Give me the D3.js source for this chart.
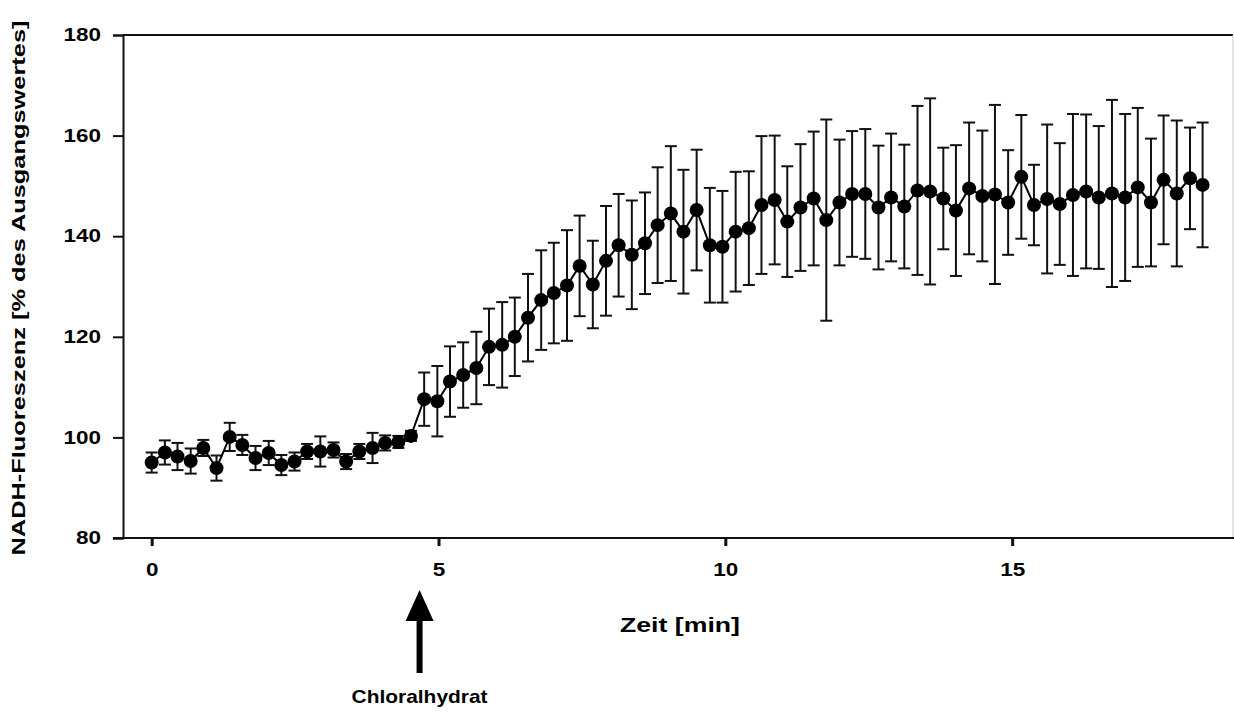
<!DOCTYPE html>
<html>
<head>
<meta charset="utf-8">
<script src="https://cdn.jsdelivr.net/npm/d3@7"></script>
<style>
  html, body { margin: 0; padding: 0; background: #fff; }
  svg { display: block; }
  text { font-family: "Liberation Sans", Arial, sans-serif; fill: #000; }
</style>
</head>
<body>
<svg id="chart" width="1234" height="713"></svg>
<script>
// Sampling times [min]
const times = [
  0.00, 0.23, 0.45, 0.68, 0.90, 1.13, 1.36, 1.58, 1.81, 2.04,
  2.26, 2.49, 2.71, 2.94, 3.17, 3.39, 3.62, 3.85, 4.07, 4.30,
  4.52, 4.75, 4.98, 5.20, 5.43, 5.66, 5.88, 6.11, 6.33, 6.56,
  6.79, 7.01, 7.24, 7.46, 7.69, 7.92, 8.14, 8.37, 8.60, 8.82,
  9.05, 9.27, 9.50, 9.73, 9.95, 10.18, 10.41, 10.63, 10.86, 11.08,
  11.31, 11.54, 11.76, 11.99, 12.21, 12.44, 12.67, 12.89, 13.12, 13.35,
  13.57, 13.80, 14.02, 14.25, 14.48, 14.70, 14.93, 15.16, 15.38, 15.61,
  15.83, 16.06, 16.29, 16.51, 16.74, 16.97, 17.19, 17.42, 17.64, 17.87,
  18.10, 18.32
];

// Mean NADH fluorescence [% of baseline]
const meanValues = [
  95.0, 97.0, 96.2, 95.3, 97.9, 93.9, 100.1, 98.5, 95.9, 96.9,
  94.5, 95.2, 97.2, 97.2, 97.5, 95.2, 97.2, 97.9, 98.9, 99.1,
  100.3, 107.6, 107.2, 111.1, 112.4, 113.8, 118.0, 118.4, 120.0, 123.8,
  127.3, 128.7, 130.2, 134.1, 130.4, 135.1, 138.2, 136.3, 138.6, 142.2,
  144.5, 140.9, 145.2, 138.2, 137.9, 140.9, 141.6, 146.2, 147.2, 142.9,
  145.7, 147.5, 143.2, 146.7, 148.4, 148.4, 145.7, 147.7, 145.9, 149.1,
  148.9, 147.5, 145.1, 149.5, 148.0, 148.3, 146.7, 151.8, 146.2, 147.4,
  146.4, 148.2, 148.9, 147.7, 148.5, 147.7, 149.7, 146.7, 151.2, 148.5,
  151.5, 150.2
];

// Standard deviation of each mean
const sdValues = [
  2.0, 2.4, 2.7, 2.5, 1.6, 2.5, 2.8, 2.0, 2.4, 2.4,
  2.0, 1.8, 1.5, 3.0, 1.5, 1.5, 1.5, 3.0, 1.5, 1.2,
  1.0, 5.3, 7.0, 7.0, 6.5, 7.2, 7.6, 8.5, 7.8, 8.7,
  9.9, 10.0, 11.0, 10.0, 8.7, 10.9, 10.2, 10.8, 10.1, 11.5,
  13.4, 12.3, 12.0, 11.4, 11.1, 11.9, 11.3, 13.7, 12.8, 11.0,
  12.6, 13.3, 20.0, 12.5, 12.5, 12.9, 12.3, 12.7, 12.3, 16.8,
  18.5, 10.1, 13.0, 13.1, 13.0, 17.8, 10.4, 12.3, 8.0, 14.8,
  12.1, 16.1, 15.3, 14.2, 18.6, 16.6, 15.8, 12.7, 12.8, 14.5,
  10.1, 12.4
];

const xTicks = [0, 5, 10, 15];
const yTicks = [80, 100, 120, 140, 160, 180];
const injectionTime = 4.67;

const xTitle = "Zeit [min]";
const yTitle = "NADH-Fluoreszenz [% des Ausgangswertes]";
const arrowLabel = "Chloralhydrat";

const data = times.map((t, i) => ({ t, v: meanValues[i], sd: sdValues[i] }));

const svg = d3.select("#chart");

const plot = { left: 123, right: 1233, top: 35, bottom: 538 };

const x = d3.scaleLinear().domain([-0.5, 18.85]).range([plot.left, plot.right]);
const y = d3.scaleLinear().domain([80, 180]).range([plot.bottom, plot.top]);

// Frame: top and right edges
svg.append("line")
  .attr("x1", plot.left).attr("x2", plot.right)
  .attr("y1", plot.top).attr("y2", plot.top)
  .attr("stroke", "#111").attr("stroke-width", 2);
svg.append("line")
  .attr("x1", plot.right).attr("x2", plot.right)
  .attr("y1", plot.top).attr("y2", plot.bottom)
  .attr("stroke", "#c8c8c8").attr("stroke-width", 1);

// Tick labels use a slightly widened digit face
const digitWidth = 12.5;
function styleTickText(sel) {
  sel.attr("font-size", 18).attr("font-weight", "bold")
    .attr("font-family", "Liberation Sans, Arial, sans-serif")
    .attr("fill", "#000")
    .attr("lengthAdjust", "spacingAndGlyphs")
    .attr("textLength", function () { return this.textContent.length * digitWidth; });
}

// Y axis
const yAxis = d3.axisLeft(y).tickValues(yTicks).tickSize(10).tickPadding(12).tickFormat(d3.format("d"));
const gy = svg.append("g").attr("transform", `translate(${plot.left},0)`).call(yAxis);
gy.select(".domain").attr("stroke", "#111").attr("stroke-width", 2);
gy.selectAll(".tick line").attr("stroke", "#111").attr("stroke-width", 2);
gy.selectAll(".tick text").call(styleTickText);

// X axis
const xAxis = d3.axisBottom(x).tickValues(xTicks).tickSize(8).tickPadding(17).tickFormat(d3.format("d"));
const gx = svg.append("g").attr("transform", `translate(0,${plot.bottom})`).call(xAxis);
gx.select(".domain").remove();
gx.append("line")
  .attr("x1", plot.left - 10).attr("x2", plot.right + 2)
  .attr("y1", 0).attr("y2", 0)
  .attr("stroke", "#111").attr("stroke-width", 2);
gx.selectAll(".tick line").attr("stroke", "#111").attr("stroke-width", 3);
gx.selectAll(".tick text").call(styleTickText);

// Axis titles
svg.append("text")
  .attr("x", 680).attr("y", 632)
  .attr("text-anchor", "middle")
  .attr("font-size", 21).attr("font-weight", "bold")
  .attr("textLength", 120).attr("lengthAdjust", "spacingAndGlyphs")
  .text(xTitle);

svg.append("text")
  .attr("transform", "translate(25,288) rotate(-90)")
  .attr("text-anchor", "middle")
  .attr("font-size", 19).attr("font-weight", "bold")
  .attr("textLength", 535).attr("lengthAdjust", "spacingAndGlyphs")
  .text(yTitle);

// Error bars
const capHalf = 6;
const eb = svg.append("g").attr("stroke", "#111").attr("stroke-width", 2).attr("fill", "none");
data.forEach(d => {
  const cx = x(d.t);
  const yTop = y(d.v + d.sd), yBot = y(d.v - d.sd);
  eb.append("line").attr("x1", cx).attr("x2", cx).attr("y1", yTop).attr("y2", yBot);
  eb.append("line").attr("x1", cx - capHalf).attr("x2", cx + capHalf).attr("y1", yTop).attr("y2", yTop);
  eb.append("line").attr("x1", cx - capHalf).attr("x2", cx + capHalf).attr("y1", yBot).attr("y2", yBot);
});

// Mean line
svg.append("path")
  .datum(data)
  .attr("fill", "none").attr("stroke", "#000").attr("stroke-width", 2)
  .attr("d", d3.line().x(d => x(d.t)).y(d => y(d.v)));

// Markers
svg.append("g").selectAll("circle")
  .data(data).join("circle")
  .attr("cx", d => x(d.t)).attr("cy", d => y(d.v))
  .attr("r", 7).attr("fill", "#000");

// Injection arrow
const ax = x(injectionTime);
const arrow = svg.append("g");
arrow.append("rect")
  .attr("x", ax - 3).attr("y", 618).attr("width", 6).attr("height", 55)
  .attr("fill", "#000");
arrow.append("path")
  .attr("d", `M${ax},590 L${ax - 14},621 L${ax + 14},621 Z`)
  .attr("fill", "#000");
svg.append("text")
  .attr("x", ax).attr("y", 703)
  .attr("text-anchor", "middle")
  .attr("font-size", 19).attr("font-weight", "bold")
  .attr("textLength", 136).attr("lengthAdjust", "spacingAndGlyphs")
  .text(arrowLabel);
</script>
</body>
</html>
